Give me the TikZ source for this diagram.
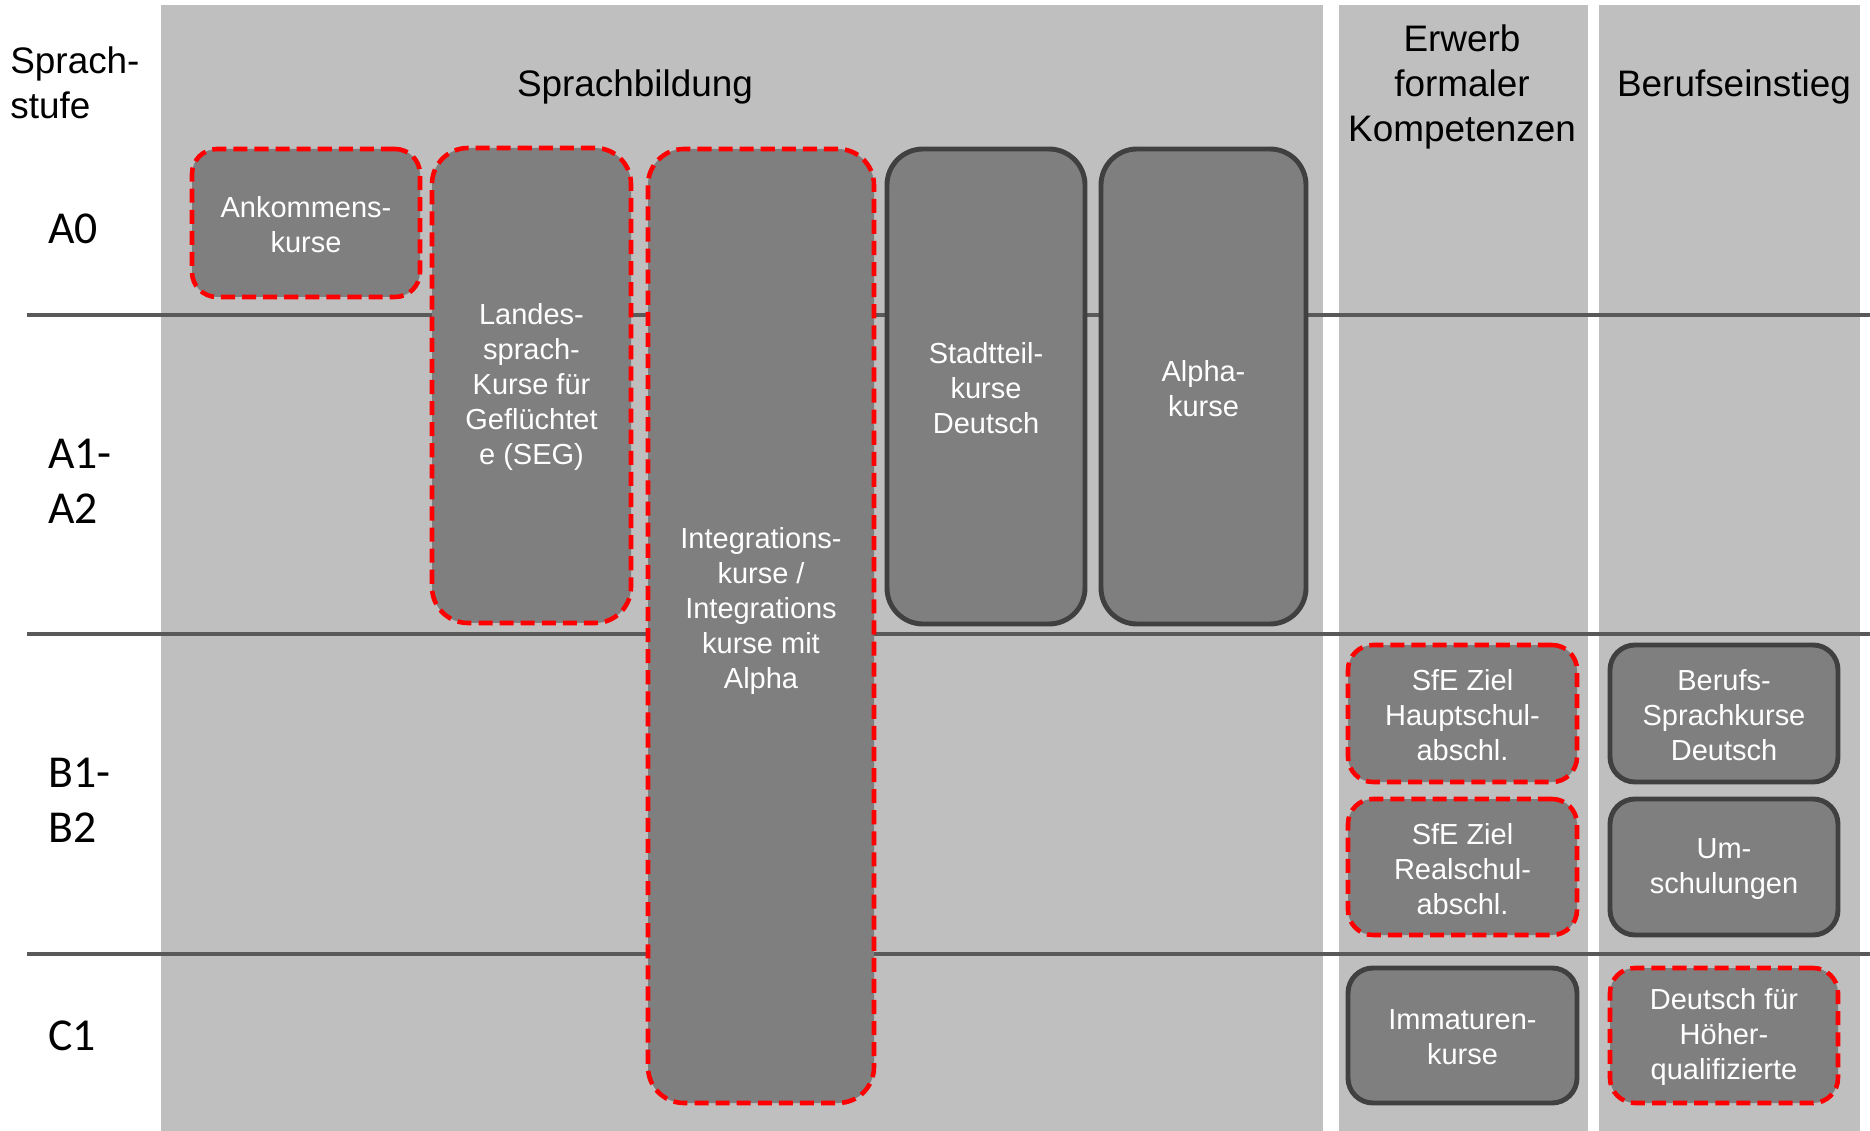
\documentclass[tikz,border=0pt]{standalone}
\usepackage{fontspec}
\setmainfont{Liberation Sans}
\newfontfamily\levelfont{Carlito}
\usetikzlibrary{fit}

\definecolor{panelgray}{HTML}{BFBFBF}
\definecolor{boxgray}{HTML}{7F7F7F}
\definecolor{rimgray}{HTML}{404040}
\definecolor{rulegray}{HTML}{595959}

\tikzset{
  course/.style={fill=boxgray, inner sep=0pt},
  coursetext/.style={text=white, align=center, inner sep=0pt, yshift=-1pt,
    font=\fontsize{16.5}{19.9}\selectfont},
  solidbox/.style={course, draw=rimgray, line width=2.8pt},
  redbox/.style={course, draw=red, line width=2.6pt, dash pattern=on 8pt off 4pt},
  smallround/.style={rounded corners=0.5cm},
  tallround/.style={rounded corners=0.72cm},
  head/.style={align=center, inner sep=0pt, font=\fontsize{21}{25.4}\selectfont},
  level/.style={anchor=west, align=left, inner sep=0pt,
    font=\levelfont\fontsize{26}{31.3}\selectfont},
}

\begin{document}
\begin{tikzpicture}[x=0.02cm, y=-0.02cm]
\useasboundingbox (0,0) rectangle (1870,1131);

%columns
\fill[panelgray] (161,5) rectangle (1323,1131);
\fill[panelgray] (1339,5) rectangle (1588,1131);
\fill[panelgray] (1599,5) rectangle (1860,1131);

%level rules
\foreach \y in {315,634,954}
  \draw[rulegray, line width=2.3pt] (27,\y) -- (1870,\y);

%headings
\node[head] (sprachbildung) at (635,87) {Sprachbildung};
\node[head] (erwerb) at (1462,87) {Erwerb\\formaler\\Kompetenzen};
\node[head] (berufseinstieg) at (1734,87) {Berufseinstieg};
\node[head, anchor=west, align=left] (stufe) at (10,83) {Sprach-\\stufe};

%levels
\node[level] (a0) at (48,229) {A0};
\node[level] (a1) at (48,481) {A1-\\A2};
\node[level] (b1) at (48,800) {B1-\\B2};
\node[level] (c1) at (48,1036) {C1};

%Sprachbildung
\node[redbox, smallround, fit={(192,149) (420,297)},
  label={[coursetext]center:{Ankommens-\\kurse}}] (ankommen) {};
\node[redbox, tallround, fit={(432,148) (631,623)},
  label={[coursetext]center:{Landes-\\sprach-\\Kurse f\"ur\\Gefl\"uchtet\\e (SEG)}}] (landes) {};
\node[redbox, tallround, fit={(648,149) (874,1103)},
  label={[coursetext, yshift=9.3pt]center:{Integrations-\\kurse /\\Integrations\\kurse mit\\Alpha}}] (integration) {};
\node[solidbox, tallround, fit={(887,149) (1085,624)},
  label={[coursetext]center:{Stadtteil-\\kurse\\Deutsch}}] (stadtteil) {};
\node[solidbox, tallround, fit={(1101,149) (1306,624)},
  label={[coursetext]center:{Alpha-\\kurse}}] (alpha) {};

%Erwerb formaler Kompetenzen
\node[redbox, smallround, fit={(1348,645) (1577,782)},
  label={[coursetext]center:{SfE Ziel\\Hauptschul-\\abschl.}}] (haupt) {};
\node[redbox, smallround, fit={(1348,799) (1577,935)},
  label={[coursetext]center:{SfE Ziel\\Realschul-\\abschl.}}] (real) {};
\node[solidbox, smallround, fit={(1348,968) (1577,1103)},
  label={[coursetext]center:{Immaturen-\\kurse}}] (immaturen) {};

%Berufseinstieg
\node[solidbox, smallround, fit={(1610,645) (1838,782)},
  label={[coursetext]center:{Berufs-\\Sprachkurse\\Deutsch}}] (berufssprach) {};
\node[solidbox, smallround, fit={(1610,799) (1838,935)},
  label={[coursetext]center:{Um-\\schulungen}}] (umschul) {};
\node[redbox, smallround, fit={(1610,968) (1838,1103)},
  label={[coursetext]center:{Deutsch f\"ur\\H\"oher-\\qualifizierte}}] (hoeher) {};

\end{tikzpicture}
\end{document}
